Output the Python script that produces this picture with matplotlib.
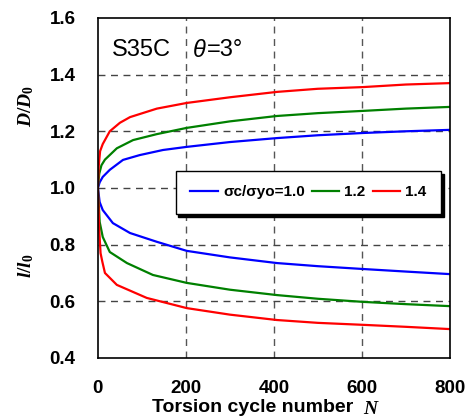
import matplotlib
matplotlib.use("Agg")
import matplotlib.pyplot as plt

plt.rcParams['font.family'] = ['Liberation Sans', 'DejaVu Sans']
plt.rcParams['mathtext.fontset'] = 'custom'
plt.rcParams['mathtext.it'] = 'Liberation Serif:italic:bold'
plt.rcParams['mathtext.rm'] = 'Liberation Serif:bold'

# Data
N_blue_up = [0, 4, 11, 27, 57, 95, 148, 202, 300, 407, 500, 603, 700, 800]
D_blue = [1.0, 1.02, 1.039, 1.064, 1.099, 1.116, 1.134, 1.145, 1.162, 1.176, 1.186, 1.194, 1.2, 1.205]
N_green_up = [0, 3, 8, 16, 43, 80, 134, 202, 300, 407, 500, 603, 700, 800]
D_green = [1.0, 1.05, 1.08, 1.10, 1.14, 1.169, 1.19, 1.212, 1.235, 1.254, 1.264, 1.272, 1.28, 1.286]
N_red_up = [0, 2, 5, 11, 27, 50, 73, 134, 202, 300, 407, 500, 603, 700, 800]
D_red = [1.0, 1.08, 1.13, 1.155, 1.20, 1.23, 1.25, 1.28, 1.30, 1.32, 1.339, 1.35, 1.356, 1.365, 1.37]

N_blue_lo = [0, 4, 11, 34, 73, 134, 202, 300, 407, 500, 603, 700, 800]
L_blue = [1.0, 0.95, 0.922, 0.876, 0.841, 0.81, 0.778, 0.755, 0.735, 0.724, 0.714, 0.705, 0.696]
N_green_lo = [0, 4, 11, 27, 66, 125, 202, 300, 407, 500, 603, 700, 800]
L_green = [1.0, 0.88, 0.827, 0.774, 0.735, 0.693, 0.665, 0.641, 0.622, 0.609, 0.598, 0.59, 0.583]
N_red_lo = [0, 3, 6, 10, 16, 43, 111, 202, 300, 407, 500, 603, 700, 800]
L_red = [1.0, 0.85, 0.77, 0.74, 0.70, 0.658, 0.612, 0.576, 0.553, 0.534, 0.524, 0.517, 0.51, 0.502]

labels = ['σc/σyo=1.0', '1.2', '1.4']
xticks = [0, 200, 400, 600, 800]
yticks = [0.4, 0.6, 0.8, 1.0, 1.2, 1.4, 1.6]

fig = plt.figure(figsize=(4.73, 4.17), dpi=100)
ax = fig.add_axes([0.207, 0.1415, 0.744, 0.8155])

for x in [200, 400, 600]:
    ax.axvline(x, color='#555555', ls=(0, (5, 4)), lw=1.0, zorder=0)
for y in [0.6, 0.8, 1.0, 1.2, 1.4]:
    ax.axhline(y, color='#444444', ls=(0, (5, 4)), lw=1.0, zorder=0)

lw = 1.6
ax.plot(N_blue_up, D_blue, color='#0000FF', lw=lw, label=labels[0])
ax.plot(N_green_up, D_green, color='#008000', lw=lw, label=labels[1])
ax.plot(N_red_up, D_red, color='#FF0000', lw=lw, label=labels[2])
ax.plot(N_blue_lo, L_blue, color='#0000FF', lw=lw)
ax.plot(N_green_lo, L_green, color='#008000', lw=lw)
ax.plot(N_red_lo, L_red, color='#FF0000', lw=lw)

ax.set_xlim(0, 800)
ax.set_ylim(0.4, 1.6)
ax.set_xticks(xticks)
ax.set_yticks(yticks)
ax.set_yticklabels([f'{v:.1f}' for v in yticks])
ax.tick_params(axis='both', length=0, labelsize=13.5)
ax.tick_params(axis='y', pad=16)
ax.tick_params(axis='x', pad=16)
for lab in ax.get_xticklabels() + ax.get_yticklabels():
    lab.set_fontweight('bold')
for s in ax.spines.values():
    s.set_linewidth(1.2)

leg = ax.legend(loc='center', bbox_to_anchor=(0.598, 0.487), ncol=3,
                frameon=True, fancybox=False, shadow={'color': 'black', 'alpha': 1},
                prop={'weight': 'bold', 'size': 11}, handlelength=1.8,
                columnspacing=0.45, handletextpad=0.35, borderpad=0.95,
                borderaxespad=0, edgecolor='black', framealpha=1)
leg.get_frame().set_linewidth(1.0)

ax.text(0.04, 0.905, 'S35C', transform=ax.transAxes, fontsize=17, va='center')
ax.text(0.27, 0.905, 'θ', transform=ax.transAxes, fontsize=17, va='center', style='italic')
ax.text(0.31, 0.905, '=3°', transform=ax.transAxes, fontsize=17, va='center')

fig.text(0.055, 0.745, '$D/D_0$', rotation=90, fontsize=14, ha='center', va='center')
fig.text(0.055, 0.362, '$l/l_0$', rotation=90, fontsize=14, ha='center', va='center')

fig.text(0.535, 0.022, 'Torsion cycle number', fontsize=14, fontweight='bold', ha='center', va='center')
fig.text(0.785, 0.018, '$N$', fontsize=14, ha='center', va='center')

fig.savefig('out.png', dpi=100)
